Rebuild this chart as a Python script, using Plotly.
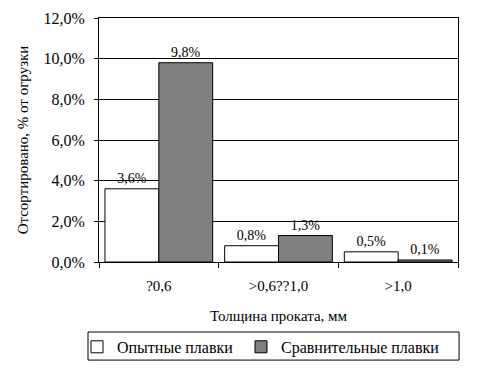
import plotly.graph_objects as go

categories = ["?0,6", ">0,6??1,0", ">1,0"]
experimental = [0.036, 0.008, 0.005]
comparative = [0.098, 0.013, 0.001]
series_names = ["Опытные плавки", "Сравнительные плавки"]

FAM = "Liberation Serif"
font = dict(family=FAM, size=15, color="black")
tick_font = dict(family=FAM, size=16, color="black")
label_font = dict(family=FAM, size=14, color="black")
legend_font = dict(family=FAM, size=16, color="black")

fig = go.Figure()
fig.add_trace(go.Bar(
    x=categories, y=experimental, name=series_names[0], legend="legend",
    marker=dict(color="white", line=dict(color="black", width=1)),
    texttemplate="%{y:.1%}", textposition="outside", textfont=label_font, cliponaxis=False,
))
fig.add_trace(go.Bar(
    x=categories, y=comparative, name=series_names[1], legend="legend2",
    marker=dict(color="#808080", line=dict(color="black", width=1)),
    texttemplate="%{y:.1%}", textposition="outside", textfont=label_font, cliponaxis=False,
))

# legend frame
fig.add_shape(type="rect", xref="paper", yref="paper",
              x0=-0.0306, x1=1.003, y0=-0.402, y1=-0.287,
              line=dict(color="black", width=1), fillcolor="rgba(0,0,0,0)")

legend_common = dict(
    orientation="h", xanchor="left", y=-0.348, yanchor="middle",
    borderwidth=0, bgcolor="rgba(0,0,0,0)", font=legend_font, itemwidth=30,
)

fig.update_layout(
    width=473, height=361,
    margin=dict(l=91, r=23, t=10, b=107, autoexpand=False),
    paper_bgcolor="white", plot_bgcolor="white",
    font=font,
    separators=", ",
    barmode="group", bargap=0.1, bargroupgap=0,
    showlegend=True,
    legend=dict(x=-0.0613, **legend_common),
    legend2=dict(x=0.3955, **legend_common),
    xaxis=dict(
        type="category", showline=True, linecolor="black", linewidth=1, mirror=True,
        ticks="outside", ticklen=5, tickcolor="black", tickson="boundaries",
        showgrid=False, tickfont=dict(family=FAM, size=15, color="black"),
        ticklabelstandoff=10,
        title=dict(text="Толщина проката, мм", font=font, standoff=17),
    ),
    yaxis=dict(
        range=[0, 0.12], dtick=0.02, tickformat=".1%",
        showline=True, linecolor="black", linewidth=1, mirror=True,
        ticks="outside", ticklen=4, tickcolor="black",
        showgrid=True, gridcolor="black", gridwidth=1, zeroline=False,
        tickfont=tick_font, ticklabelstandoff=6,
        title=dict(text="Отсортировано, % от огрузки", font=font, standoff=11),
    ),
)

fig.write_html("out.html")
